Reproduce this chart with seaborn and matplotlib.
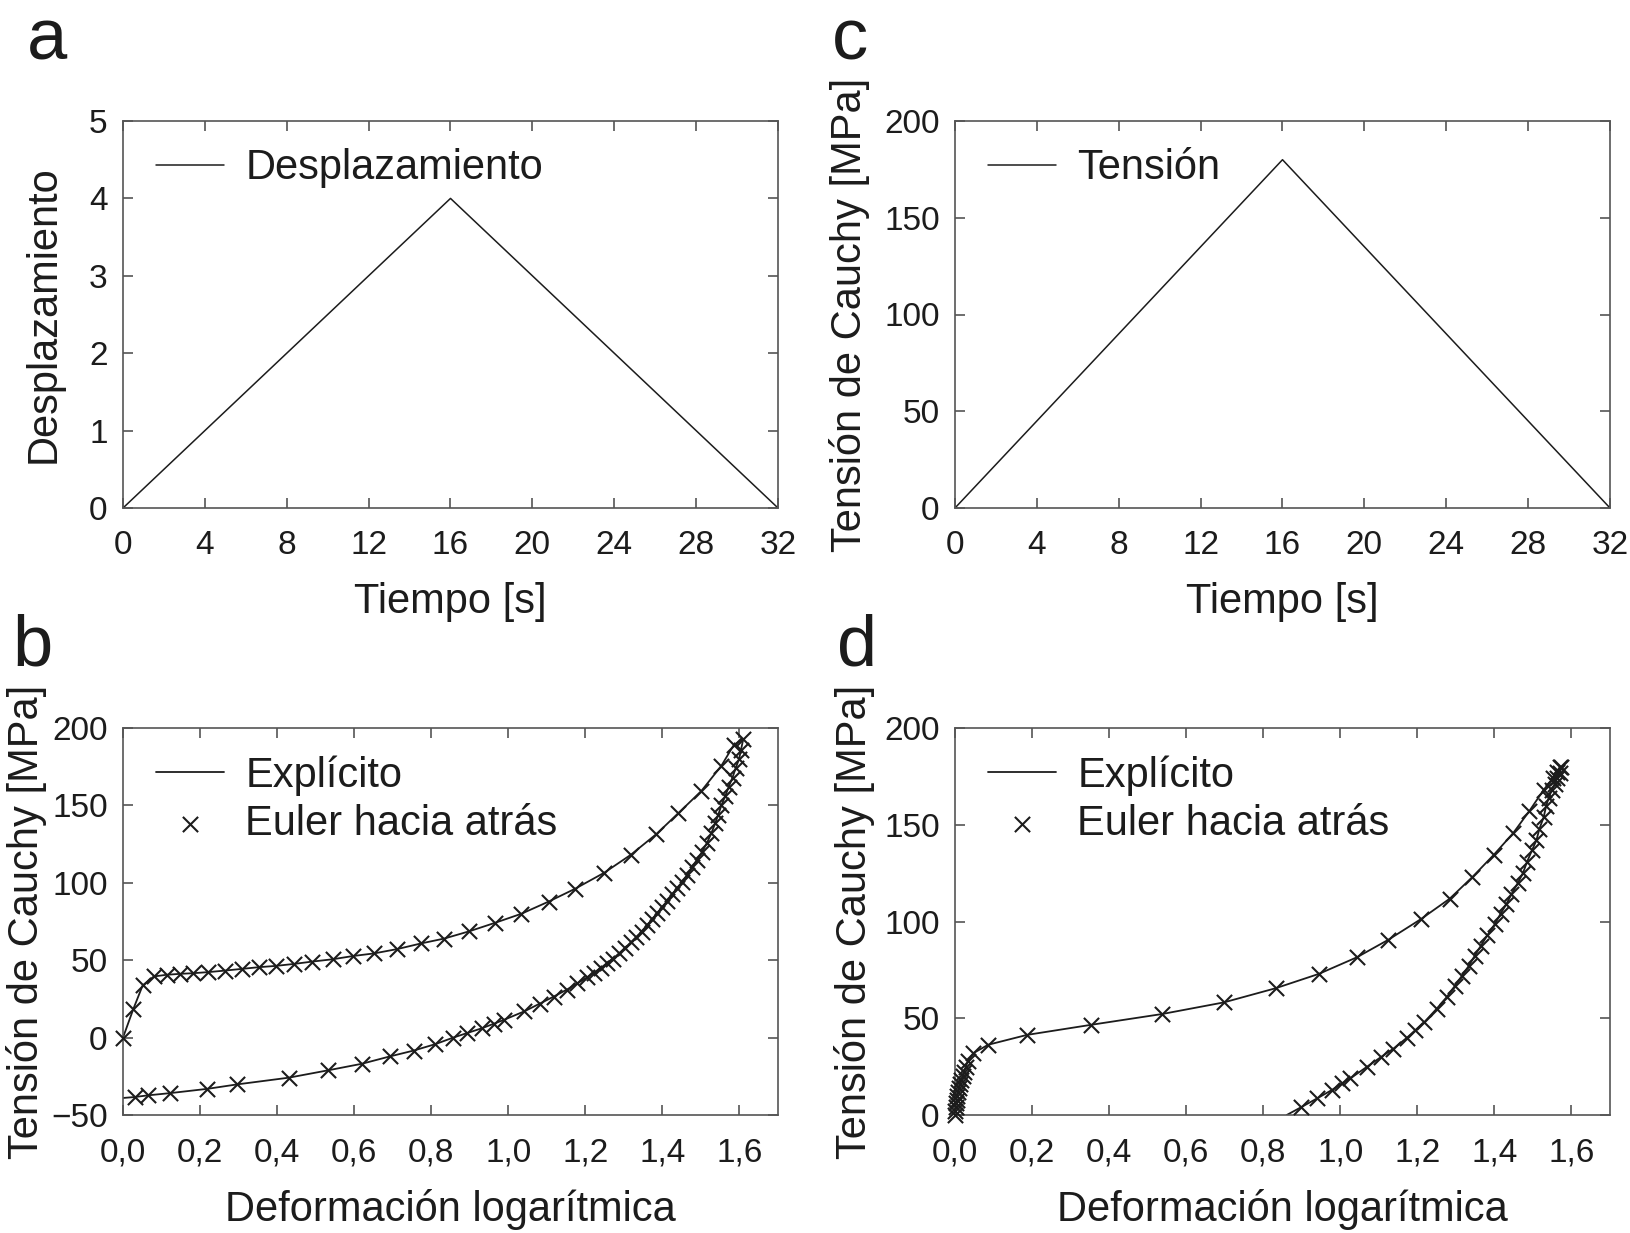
#! /usr/bin/env python
"""
Ciclo de carga / descarga: desplazamiento, tension y curvas tension-deformacion
"""

import numpy as np
import pandas as pd
import seaborn as sns
import matplotlib.pyplot as plt
from matplotlib.ticker import FuncFormatter

# panel a / c : control en desplazamiento y en tension
time_s = [0, 16, 32]
displacement = [0, 4, 0]
stress_ctrl = [0, 180, 0]

# panel b : control en desplazamiento (carga, descarga)
b_load_strain = [0.0, 0.027, 0.051, 0.080, 0.114, 0.149, 0.182, 0.221, 0.265, 0.309,
                 0.353, 0.396, 0.444, 0.491, 0.544, 0.597, 0.652, 0.712, 0.773, 0.834,
                 0.899, 0.965, 1.034, 1.105, 1.173, 1.249, 1.318, 1.384, 1.441, 1.501,
                 1.553, 1.585]
b_load_stress = [0, 18.6, 33.7, 39.5, 40.6, 41.2, 41.6, 42.3, 43.3, 44.4,
                 45.5, 46.3, 47.6, 49.1, 50.6, 52.7, 54.4, 57.2, 60.8, 64.0,
                 68.7, 74.1, 80.0, 87.9, 96.1, 106.5, 118.1, 131.4, 144.9, 159.3,
                 175.6, 188.9]
b_unload_strain = [1.610, 1.604, 1.599, 1.590, 1.582, 1.572, 1.563, 1.553, 1.545, 1.537,
                   1.527, 1.516, 1.503, 1.490, 1.477, 1.464, 1.451, 1.438, 1.426, 1.413,
                   1.400, 1.387, 1.374, 1.360, 1.346, 1.332, 1.318, 1.303, 1.288, 1.272,
                   1.256, 1.240, 1.223, 1.205, 1.179, 1.152, 1.118, 1.082, 1.042, 0.989,
                   0.963, 0.931, 0.894, 0.857, 0.811, 0.754, 0.692, 0.620, 0.533, 0.430,
                   0.297, 0.219, 0.121, 0.065, 0.030]
b_unload_stress = [193, 186, 180, 174, 168, 162, 156, 150, 144, 138.5,
                   132, 126, 120, 115, 110, 105, 100.5, 96.5, 92.5, 88.5,
                   84.5, 80.5, 76.5, 72.5, 68.5, 65, 61.5, 58, 54.5, 51,
                   48, 45, 42, 39, 35, 31, 26.5, 22, 17, 11.5,
                   9, 6, 3, 0, -4.2, -8.4, -12.2, -16.9, -21.1, -25.9,
                   -30.2, -33.1, -35.9, -37.3, -38.4]
# final state of the explicit solution (no marker there)
b_end_strain = [0.0]
b_end_stress = [-39.0]

# panel d : control en tension (carga, descarga)
d_load_strain = [0.000, 0.001, 0.002, 0.003, 0.004, 0.006, 0.008, 0.010, 0.013, 0.016,
                 0.020, 0.023, 0.028, 0.034, 0.048, 0.086, 0.187, 0.353, 0.538, 0.698,
                 0.832, 0.944, 1.043, 1.125, 1.209, 1.284, 1.343, 1.399, 1.448, 1.490,
                 1.528, 1.552, 1.563, 1.570]
d_load_stress = [0, 2, 4, 6, 8, 10, 12, 14, 16, 18,
                 20, 22, 25, 28, 32, 36.3, 41.4, 46.6, 52.2, 58.2,
                 65.5, 72.9, 81.5, 90.6, 101.2, 111.8, 123.0, 134.6, 145.5, 156.9,
                 168.1, 174, 177.5, 180]
d_unload_strain = [1.574, 1.570, 1.563, 1.556, 1.549, 1.541, 1.534, 1.528, 1.517, 1.509,
                   1.498, 1.485, 1.474, 1.461, 1.444, 1.431, 1.416, 1.401, 1.382, 1.365,
                   1.349, 1.334, 1.316, 1.297, 1.276, 1.250, 1.218, 1.194, 1.172, 1.138,
                   1.106, 1.069, 1.026, 1.004, 0.978, 0.940, 0.899]
d_unload_stress = [180, 177, 174, 171, 168, 164, 159.5, 154, 148, 142,
                   137, 131, 125, 120, 114, 109, 104, 98.6, 93, 87.5,
                   82.3, 77.2, 72, 66.6, 60.9, 54.9, 48, 43.7, 39.8, 34.3,
                   30, 24.9, 18.9, 16.3, 12.9, 8.6, 4.1]
d_end_strain = [0.861]
d_end_stress = [0.0]

time_ticks = [0, 4, 8, 12, 16, 20, 24, 28, 32]
strain_ticks = [0.0, 0.2, 0.4, 0.6, 0.8, 1.0, 1.2, 1.4, 1.6]

INK = "#1c1c1c"
SPINE = "#555555"

sns.set_style("ticks")
plt.rcParams['font.family'] = ['Liberation Sans', 'DejaVu Sans']


def comma(v, pos):
    return f"{v:.1f}".replace(".", ",")


def minus(v, pos):
    return f"{v:g}".replace("-", "\u2212")


def style(ax):
    for sp in ax.spines.values():
        sp.set_visible(True)
        sp.set_color(SPINE)
        sp.set_linewidth(1.2)
    ax.tick_params(direction="in", length=7, width=1.2, color=SPINE,
                   labelcolor=INK, labelsize=24, top=True, right=True)
    ax.tick_params(axis="x", pad=16)
    ax.tick_params(axis="y", pad=11)


def legend(ax):
    ax.legend(frameon=False, loc="upper left", bbox_to_anchor=(0.05, 0.93),
              borderpad=0, borderaxespad=0, handlelength=1.65, handletextpad=0.5,
              labelspacing=0.2, fontsize=30, scatterpoints=1, labelcolor=INK)


fig = plt.figure(figsize=(16.31, 12.33), dpi=100)
W, H = 1631, 1233
boxes = {
    "a": (123, 121), "c": (955, 121),
    "b": (123, 728), "d": (955, 728),
}
axes = {}
for k, (x0, y0) in boxes.items():
    axes[k] = fig.add_axes([x0 / W, 1 - (y0 + 387) / H, 655 / W, 387 / H])

# a
ax = axes["a"]
sns.lineplot(x=time_s, y=displacement, ax=ax, color=INK, lw=1.1, label="Desplazamiento")
ax.set_xlim(0, 32)
ax.set_ylim(0, 5)
ax.set_xticks(time_ticks)
ax.set_yticks(range(6))

# c
ax = axes["c"]
sns.lineplot(x=time_s, y=stress_ctrl, ax=ax, color=INK, lw=1.1, label="Tensión")
ax.set_xlim(0, 32)
ax.set_ylim(0, 200)
ax.set_xticks(time_ticks)
ax.set_yticks(range(0, 201, 50))

# b, d
for k, ls, lt, us, ut, es, et, ylo in [
    ("b", b_load_strain, b_load_stress, b_unload_strain, b_unload_stress,
     b_end_strain, b_end_stress, -50),
    ("d", d_load_strain, d_load_stress, d_unload_strain, d_unload_stress,
     d_end_strain, d_end_stress, 0),
]:
    ax = axes[k]
    pts = pd.DataFrame({"strain": ls + us, "stress": lt + ut})
    path = pd.DataFrame({"strain": ls + us + es, "stress": lt + ut + et})
    sns.lineplot(data=path, x="strain", y="stress", sort=False, estimator=None,
                 ax=ax, color=INK, lw=1.3, label="Explícito")
    sns.scatterplot(data=pts, x="strain", y="stress", marker="x", s=120, color=INK,
                    linewidth=1.5, ax=ax, clip_on=False, zorder=3,
                    label="Euler hacia atrás")
    ax.set_xlim(0, 1.7)
    ax.set_ylim(ylo, 200)
    ax.set_xticks(strain_ticks)
    ax.set_yticks(range(ylo, 201, 50))
    ax.xaxis.set_major_formatter(FuncFormatter(comma))
    ax.yaxis.set_major_formatter(FuncFormatter(minus))

ylabels = {"a": ("Desplazamiento", -0.090), "c": ("Tensión de Cauchy [MPa]", -0.130),
           "b": ("Tensión de Cauchy [MPa]", -0.116), "d": ("Tensión de Cauchy [MPa]", -0.122)}
xlabels = {"a": "Tiempo [s]", "c": "Tiempo [s]",
           "b": "Deformación logarítmica", "d": "Deformación logarítmica"}

for k, ax in axes.items():
    style(ax)
    legend(ax)
    txt, xc = ylabels[k]
    ax.set_ylabel(txt, fontsize=30, color=INK)
    ax.yaxis.set_label_coords(xc, 0.5)
    ax.set_xlabel(xlabels[k], fontsize=30, color=INK)
    ax.xaxis.set_label_coords(0.5, -0.19)

letters = {"a": (27, 60), "c": (832, 60), "b": (12, 666), "d": (837, 666)}
for k, (x, y) in letters.items():
    fig.text(x / W, 1 - y / H, k, fontsize=52, color=INK, ha="left", va="baseline")

plt.savefig("out.png", dpi=100)
